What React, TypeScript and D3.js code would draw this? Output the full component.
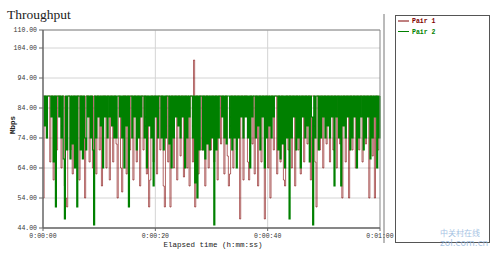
import React from "react";
import * as d3 from "d3";

const TITLE = "Throughput";
const Y_TICKS = [110, 104, 94, 84, 74, 64, 54, 44];
const X_TICKS = [0, 20, 40, 60];
const X_TICK_LABELS = ["0:00:00", "0:00:20", "0:00:40", "0:01:00"];
const SERIES_NAMES = ["Pair 1", "Pair 2"];
const SAMPLE_INTERVAL = 0.2; // seconds between samples

// Pair 1 (drawn first, underneath)
const PAIR1 = [
  54,88,88,74,88,88,66,88,88,60,88,88,70,88,88,88,64,88,88,58,
  54,51,88,88,70,88,62,88,88,66,88,88,60,88,88,72,88,54,88,88,
  88,66,88,88,64,88,88,62,88,88,70,88,58,88,88,88,64,88,88,60,
  88,88,66,88,88,72,54,88,88,64,56,88,88,88,62,88,88,70,88,88,
  60,88,88,66,88,88,58,88,88,70,88,88,62,88,51,60,88,88,66,88,
  88,62,88,88,70,88,88,58,51,88,88,66,88,51,88,88,64,88,88,60,
  88,88,68,88,88,61,88,88,64,88,58,88,88,66,100,51,88,88,62,88,
  88,70,88,88,58,88,88,64,88,70,88,88,66,88,88,60,88,88,72,88,
  88,62,88,88,68,58,62,88,88,64,88,88,70,88,88,47,88,88,60,88,
  88,88,66,60,88,88,72,88,62,88,88,58,88,88,66,88,88,47,88,88,
  64,88,54,88,88,70,88,88,62,88,88,66,88,88,60,58,88,88,70,88,
  88,64,88,88,58,88,88,70,88,62,88,88,66,88,88,72,88,88,60,88,
  88,88,66,51,88,88,70,88,88,64,88,88,72,88,88,66,88,88,70,88,
  88,64,88,88,72,88,54,88,88,66,88,88,54,88,88,70,88,88,64,88,
  88,70,88,88,66,88,88,72,88,88,54,88,88,68,88,54,88,88,70,88,88,
];

// Pair 2 (drawn on top)
const PAIR2 = [
  88,78,88,74,88,88,88,81,88,66,88,51,88,88,81,88,74,88,67,47,
  88,70,88,88,67,88,72,88,64,88,51,88,88,70,88,67,88,74,70,88,
  81,88,74,88,70,45,88,74,88,81,88,78,88,64,88,81,88,74,88,81,
  88,78,88,74,88,74,88,88,81,88,74,88,64,88,78,88,51,88,88,74,
  88,81,88,70,88,74,88,81,88,88,74,88,64,88,78,88,74,88,58,88,
  81,88,74,88,88,74,88,70,88,74,88,88,72,88,64,88,74,88,81,88,
  78,88,74,88,81,88,64,88,74,88,81,88,88,74,88,59,88,54,88,70,
  88,88,70,88,67,88,72,88,70,88,74,88,45,88,70,88,74,88,88,81,
  88,74,88,72,88,88,74,88,70,88,74,88,64,88,74,88,81,88,74,88,
  81,88,74,88,64,88,81,88,88,74,88,78,88,70,88,81,88,64,88,74,
  88,78,88,74,88,81,88,88,88,70,88,67,88,72,88,64,88,74,88,47,
  88,74,88,81,88,70,88,74,88,64,88,81,88,74,88,78,88,66,88,81,
  45,88,74,88,88,70,88,74,88,81,88,74,88,78,88,74,88,81,88,58,
  88,81,88,74,88,58,88,78,88,74,88,81,88,70,88,74,88,81,88,64,
  88,74,88,81,88,70,88,74,88,81,88,67,88,74,88,81,88,64,88,74,88,
];

const COLORS = ["#800000", "#008000"];

export default function App() {
  const W = 500, H = 255;
  const left = 43, right = 380, top = 30, bottom = 228;
  const x = d3.scaleLinear().domain([0, 60]).range([left, right]);
  const y = d3.scaleLinear().domain([44, 110]).range([bottom, top]);

  const line = d3
    .line<number>()
    .x((_, i) => x(i * SAMPLE_INTERVAL))
    .y((d) => y(d))
    .curve(d3.curveStepAfter);

  const mono = "'Liberation Mono', 'DejaVu Sans Mono', monospace";

  return (
    <svg
      width={W}
      height={H}
      style={{ position: "absolute", left: 0, top: 0, background: "#fff" }}
    >
      <text x={7} y={19} fontFamily="'Liberation Serif', serif" fontSize={13.5} fill="#222">
        {TITLE}
      </text>

      {/* grid */}
      {Y_TICKS.map((t) => (
        <line key={"gy" + t} x1={left} x2={right} y1={y(t)} y2={y(t)} stroke="#d4d4d4" strokeWidth={1} />
      ))}
      {X_TICKS.slice(1, 3).map((t) => (
        <line key={"gx" + t} x1={x(t)} x2={x(t)} y1={top} y2={bottom} stroke="#d4d4d4" strokeWidth={1} />
      ))}

      {/* series */}
      <path d={line(PAIR1) || ""} fill="none" stroke={COLORS[0]} strokeWidth={0.6} />
      <path d={line(PAIR2) || ""} fill="none" stroke={COLORS[1]} strokeWidth={1.1} />

      {/* frame */}
      <line x1={left} x2={right} y1={top} y2={top} stroke="#888" strokeWidth={1} />
      <line x1={right} x2={right} y1={top} y2={bottom} stroke="#888" strokeWidth={1} />
      <line x1={left} x2={left} y1={top} y2={bottom} stroke="#666" strokeWidth={1.5} />
      <line x1={left} x2={right} y1={bottom} y2={bottom} stroke="#666" strokeWidth={1.5} />
      <line x1={384} x2={384} y1={14} y2={243} stroke="#777" strokeWidth={1} />

      {/* y ticks */}
      {Y_TICKS.map((t) => (
        <g key={"ty" + t}>
          <line x1={left - 4} x2={left} y1={y(t)} y2={y(t)} stroke="#666" />
          <text x={left - 6} y={y(t) + 2.2} textAnchor="end" fontFamily={mono} fontSize={6.5} fill="#333">
            {t.toFixed(2)}
          </text>
        </g>
      ))}
      {/* x ticks */}
      {X_TICKS.map((t, i) => (
        <g key={"tx" + t}>
          <line x1={x(t)} x2={x(t)} y1={bottom} y2={bottom + 3} stroke="#666" />
          <text x={x(t)} y={bottom + 10} textAnchor="middle" fontFamily={mono} fontSize={6.5} fill="#333">
            {X_TICK_LABELS[i]}
          </text>
        </g>
      ))}

      <text x={213} y={247} textAnchor="middle" fontFamily={mono} fontSize={7.5} fill="#222">
        Elapsed time (h:mm:ss)
      </text>
      <text
        transform="translate(15,125) rotate(-90)"
        textAnchor="middle"
        fontFamily={mono}
        fontSize={7.5}
        fontWeight="bold"
        fill="#222"
      >
        Mbps
      </text>

      {/* legend */}
      <rect x={395.5} y={15.5} width={94} height={227} fill="none" stroke="#555" strokeWidth={1} />
      {SERIES_NAMES.map((n, i) => (
        <g key={n}>
          <line x1={398} x2={409} y1={21 + i * 10.5} y2={21 + i * 10.5} stroke={COLORS[i]} strokeWidth={1} />
          <text x={412} y={23 + i * 10.5} fontFamily={mono} fontSize={6.5} fontWeight="bold" fill={COLORS[i]}>
            {n}
          </text>
        </g>
      ))}

      {/* watermark */}
      <text x={440} y={236} fontFamily="'Noto Sans CJK SC', sans-serif" fontSize={8} fill="#8fb4dc" opacity={0.8}>
        中关村在线
      </text>
      <text x={440} y={246} fontFamily="'DejaVu Sans', sans-serif" fontSize={9} fill="#8fb4dc" opacity={0.8}>
        zol.com.cn
      </text>
    </svg>
  );
}
